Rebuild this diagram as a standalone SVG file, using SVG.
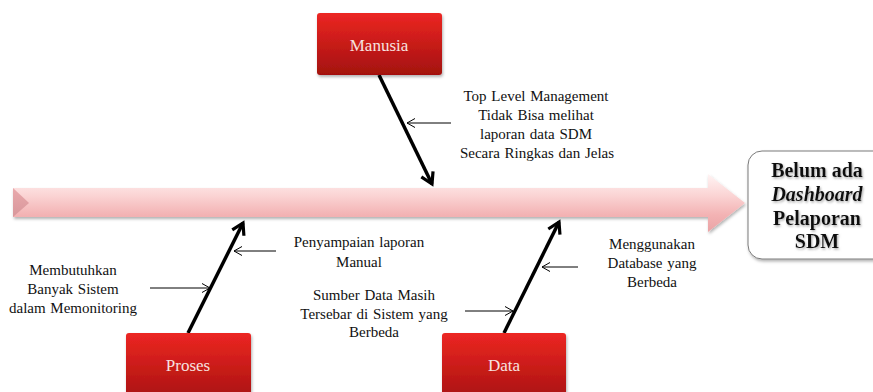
<svg xmlns="http://www.w3.org/2000/svg" width="873" height="392" viewBox="0 0 873 392">
<defs>
<linearGradient id="redg" x1="0" y1="0" x2="0" y2="1">
<stop offset="0" stop-color="#ec2622"/>
<stop offset="1" stop-color="#a3110f"/>
</linearGradient>
<linearGradient id="pinkg" x1="0" y1="0" x2="0" y2="1">
<stop offset="0" stop-color="#fff4f4"/>
<stop offset="0.35" stop-color="#fbd6d6"/>
<stop offset="0.7" stop-color="#f3b3b4"/>
<stop offset="1" stop-color="#eaa3a5"/>
</linearGradient>
<linearGradient id="tailg" x1="0" y1="0" x2="0" y2="1">
<stop offset="0" stop-color="#e9a9ac"/>
<stop offset="1" stop-color="#d8979b"/>
</linearGradient>
<filter id="sh" x="-10%" y="-10%" width="130%" height="140%">
<feDropShadow dx="1" dy="2" stdDeviation="1.5" flood-color="#000" flood-opacity="0.3"/>
</filter>
<filter id="tsh" x="-10%" y="-20%" width="130%" height="150%">
<feDropShadow dx="1" dy="1.5" stdDeviation="1" flood-color="#888" flood-opacity="0.7"/>
</filter>
<marker id="thick" viewBox="-14 -9 18 18" markerWidth="18" markerHeight="18" refX="0" refY="0" orient="auto" markerUnits="userSpaceOnUse">
<path d="M -11 -6.5 L 0 0 L -11 6.5" fill="none" stroke="#000" stroke-width="3.2" stroke-linejoin="miter"/>
</marker>
<marker id="thin" viewBox="-10 -6 12 12" markerWidth="12" markerHeight="12" refX="0" refY="0" orient="auto" markerUnits="userSpaceOnUse">
<path d="M -8 -4.5 L 0 0 L -8 4.5" fill="none" stroke="#000" stroke-width="1"/>
</marker>
<style>
.box { fill: url(#redg); filter: url(#sh); }
.boxt { font-family: "Liberation Serif", "Times New Roman", serif; font-size: 17px; fill: #f7e2e0; text-anchor: middle; }
.lbl { font-family: "Liberation Serif", "Times New Roman", serif; font-size: 15px; fill: #111; text-anchor: middle; word-spacing: 1px; }
.res { font-family: "Liberation Serif", "Times New Roman", serif; font-size: 20px; font-weight: bold; fill: #111; text-anchor: middle; filter: url(#tsh); }
.bone { stroke: #000; stroke-width: 3.5; fill: none; marker-end: url(#thick); }
.sub { stroke: #000; stroke-width: 1; fill: none; marker-end: url(#thin); }
</style>
</defs>
<rect width="873" height="392" fill="#fff"/>

<g id="spine">
<path d="M 13 188 L 708 188 L 708 174 L 745 203 L 708 232 L 708 217 L 13 217 Z" fill="url(#pinkg)" filter="url(#sh)"/>
<path d="M 13 188 L 29 203 L 13 217 Z" fill="url(#tailg)"/>
</g>

<g id="connectors">
<line class="bone" x1="379" y1="75" x2="432" y2="184"/>
<line class="bone" x1="188" y1="333" x2="243" y2="223"/>
<line class="bone" x1="504" y1="333" x2="559" y2="222"/>
<line class="sub" x1="451" y1="123" x2="407" y2="123"/>
<line class="sub" x1="276" y1="251" x2="234" y2="251"/>
<line class="sub" x1="150" y1="288" x2="210" y2="288"/>
<line class="sub" x1="578" y1="267" x2="542" y2="267"/>
<line class="sub" x1="465" y1="311" x2="513" y2="311"/>
</g>

<g id="manusia">
<rect class="box" x="317" y="13" width="125" height="62" rx="3"/>
<text class="boxt" x="379" y="51">Manusia</text>
</g>

<g id="proses">
<rect class="box" x="126" y="333" width="125" height="72" rx="3"/>
<text class="boxt" x="188" y="371">Proses</text>
</g>

<g id="data">
<rect class="box" x="442" y="333" width="124" height="72" rx="3"/>
<text class="boxt" x="504" y="371">Data</text>
</g>

<g id="hasil">
<rect x="748" y="151" width="140" height="108" rx="14" fill="#fff" stroke="#7a7a7a" stroke-width="1" filter="url(#sh)"/>
<text class="res" x="817" y="177">Belum ada</text>
<text class="res" x="817" y="201" font-style="italic">Dashboard</text>
<text class="res" x="817" y="225">Pelaporan</text>
<text class="res" x="817" y="248">SDM</text>
</g>

<g id="label-manusia">
<text class="lbl" x="536" y="101">Top Level Management</text>
<text class="lbl" x="536" y="120">Tidak Bisa melihat</text>
<text class="lbl" x="536" y="139">laporan data SDM</text>
<text class="lbl" x="537" y="158">Secara Ringkas  dan Jelas</text>
</g>

<g id="label-proses">
<text class="lbl" x="359" y="247">Penyampaian laporan</text>
<text class="lbl" x="359" y="267">Manual</text>
<text class="lbl" x="73" y="275">Membutuhkan</text>
<text class="lbl" x="73" y="294">Banyak Sistem</text>
<text class="lbl" x="73" y="313">dalam Memonitoring</text>
</g>

<g id="label-data">
<text class="lbl" x="374" y="300">Sumber Data Masih</text>
<text class="lbl" x="374" y="319">Tersebar di Sistem yang</text>
<text class="lbl" x="374" y="337">Berbeda</text>
<text class="lbl" x="652" y="249">Menggunakan</text>
<text class="lbl" x="652" y="268">Database yang</text>
<text class="lbl" x="652" y="287">Berbeda</text>
</g>
</svg>
